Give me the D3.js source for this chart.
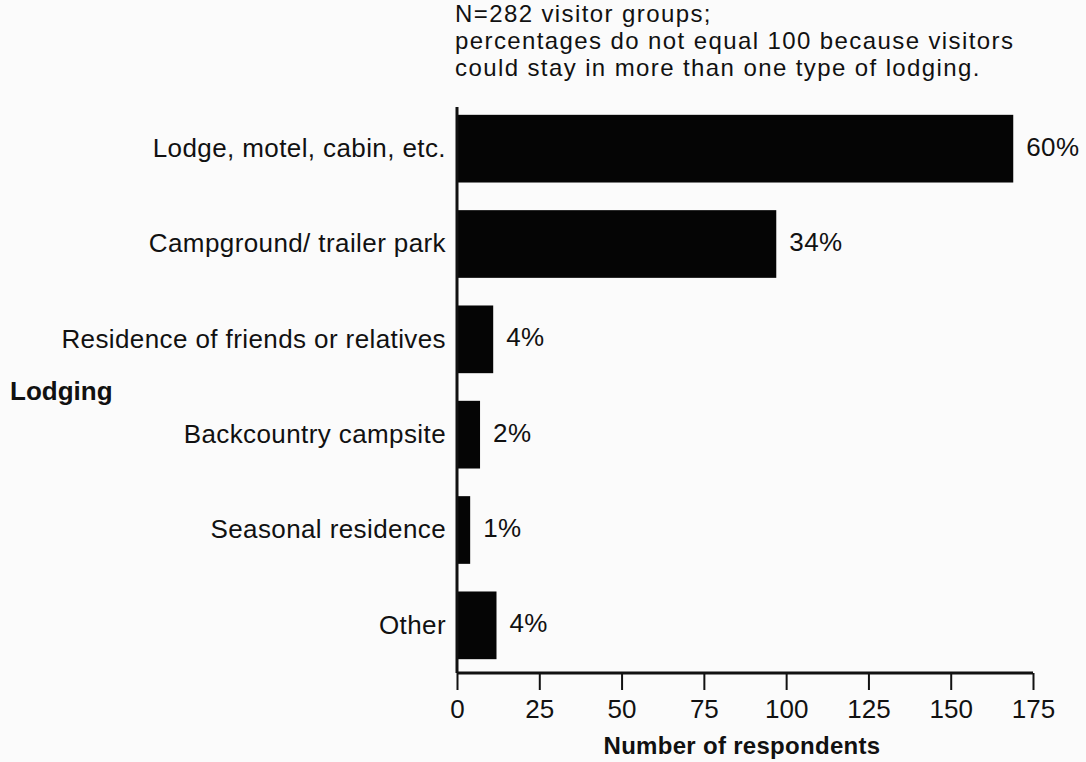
<!DOCTYPE html>
<html>
<head>
<meta charset="utf-8">
<script src="https://cdn.jsdelivr.net/npm/d3@7"></script>
<style>
  html, body { margin: 0; padding: 0; background: #fbfbfb; }
  svg { display: block; }
  text { font-family: "Liberation Sans", Arial, Helvetica, sans-serif; fill: #111; }
</style>
</head>
<body>
<svg id="chart" width="1086" height="762"></svg>
<script>
const categories = [
  "Lodge, motel, cabin, etc.",
  "Campground/ trailer park",
  "Residence of friends or relatives",
  "Backcountry campsite",
  "Seasonal residence",
  "Other"
];
const counts = [169, 97, 11, 7, 4, 12];
const percentLabels = ["60%", "34%", "4%", "2%", "1%", "4%"];
const xTicks = [0, 25, 50, 75, 100, 125, 150, 175];
const noteLines = [
  "N=282 visitor groups;",
  "percentages do not equal 100 because visitors",
  "could stay in more than one type of lodging."
];
const yTitle = "Lodging";
const xTitle = "Number of respondents";

const svg = d3.select("#chart");
const fs = 26;
const ls = "0.4px";

const x = d3.scaleLinear().domain([0, 175]).range([457, 1033]);
const y = d3.scaleBand().domain(categories).range([101, 673])
  .paddingInner(0.29).paddingOuter(0.145);

// bars
svg.append("g").selectAll("rect")
  .data(categories)
  .join("rect")
  .attr("x", x(0))
  .attr("y", d => y(d))
  .attr("width", (d, i) => x(counts[i]) - x(0))
  .attr("height", y.bandwidth())
  .attr("fill", "#050505");

// percent labels
svg.append("g").selectAll("text")
  .data(categories)
  .join("text")
  .attr("x", (d, i) => x(counts[i]) + 13)
  .attr("y", d => y(d) + y.bandwidth() / 2 - 2)
  .attr("dy", "0.35em")
  .attr("font-size", fs)
  .attr("letter-spacing", ls)
  .text((d, i) => percentLabels[i]);

// x axis
const xAxis = d3.axisBottom(x).tickValues(xTicks).tickSize(17).tickPadding(10);
const gx = svg.append("g").attr("transform", "translate(0,673)").call(xAxis);
gx.select(".domain").attr("stroke", "#111").attr("stroke-width", 3)
  .attr("d", `M${x(0)},0H${x(175)}`);
gx.selectAll(".tick line").attr("stroke", "#111").attr("stroke-width", 2);
gx.selectAll(".tick text").attr("font-size", fs)
  .attr("font-family", "Liberation Sans, Arial, sans-serif").attr("fill", "#111");

// y axis
const yAxis = d3.axisLeft(y).tickSize(0).tickPadding(11);
const gy = svg.append("g").attr("transform", `translate(${x(0)},0)`).call(yAxis);
gy.select(".domain").attr("stroke", "#111").attr("stroke-width", 3)
  .attr("d", "M0,107V673");
gy.selectAll(".tick text").attr("font-size", fs)
  .attr("letter-spacing", ls)
  .attr("font-family", "Liberation Sans, Arial, sans-serif").attr("fill", "#111");

// titles
svg.append("text").attr("x", 10).attr("y", 400)
  .attr("font-size", fs).attr("font-weight", "bold").text(yTitle);
svg.append("text").attr("x", (x(0) + x(175)) / 2 - 3).attr("y", 754)
  .attr("text-anchor", "middle").attr("font-size", 24).attr("font-weight", "bold")
  .attr("letter-spacing", "0.3px")
  .text(xTitle);

// note
svg.append("g").selectAll("text")
  .data(noteLines)
  .join("text")
  .attr("x", 455)
  .attr("y", (d, i) => 22 + i * 27)
  .attr("font-size", 24)
  .attr("letter-spacing", "1.4px")
  .text(d => d);
</script>
</body>
</html>
